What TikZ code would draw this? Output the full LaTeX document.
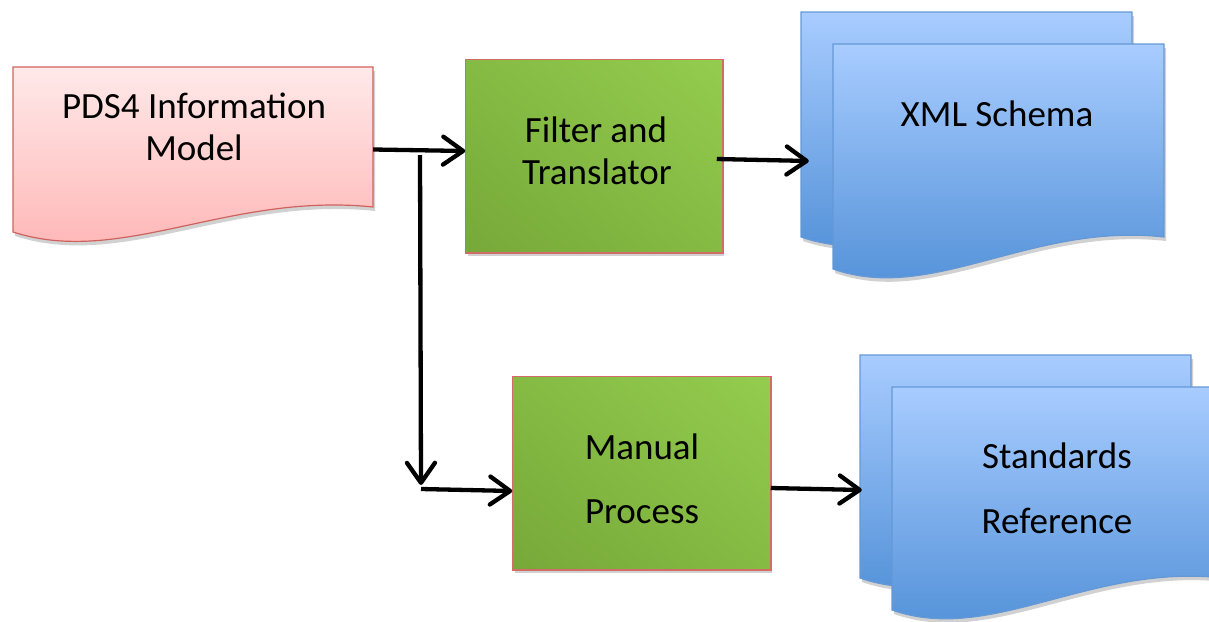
\documentclass[tikz,border=0pt]{standalone}
\usepackage{fontspec}
\setmainfont{Carlito}
\usetikzlibrary{arrows.meta,shadows}
\definecolor{pinkTop}{HTML}{FFE9E9}
\definecolor{pinkBot}{HTML}{FFB2B2}
\definecolor{pinkLine}{HTML}{D0625E}
\definecolor{gLight}{HTML}{A2DE58}
\definecolor{gDark}{HTML}{68972F}
\definecolor{gLine}{HTML}{D26C66}
\definecolor{bTop}{HTML}{A8CCFF}
\definecolor{bBot}{HTML}{4E8ED6}
\definecolor{bLine}{HTML}{6598D6}
\newcommand\docshape[6]{%
  \path[#1] (#2,#3) -- (#4,#3) -- (#4,#5)
    .. controls ({#2+0.6*(#4-#2)},{#5-15}) and ({#2+0.3*(#4-#2)},{#6+35}) .. (#2,#6) -- cycle;}
% diagonal green gradient inside box named #1, centre (#2pt,#3pt) in canvas units
\newcommand\greenfill[3]{%
  \begin{scope}
    \clip (#1.south west) rectangle (#1.north east);
    \begin{scope}[transform canvas={shift={(#2pt,#3pt)}, rotate=53.13}]
      \shade[left color=gDark, right color=gLight] (-307pt,-307pt) rectangle (307pt,307pt);
    \end{scope}
  \end{scope}
  \draw[gLine, line width=1.5pt] (#1.south west) rectangle (#1.north east);}
\begin{document}
\begin{tikzpicture}[x=1pt,y=-1pt,
  lbl/.style={font=\fontsize{37}{42}\selectfont, anchor=base, inner sep=0pt},
  conn/.style={line width=4.3pt, -{Straight Barb[length=20pt,width=28pt,round]}},
  shad/.style={drop shadow={opacity=0.18, shadow xshift=2pt, shadow yshift=-4pt, fill=black}},
  pinkdoc/.style={shad, draw=pinkLine, line width=1.2pt, top color=pinkTop, bottom color=pinkBot},
  bluedoc/.style={shad, draw=bLine, line width=1.2pt, top color=bTop, bottom color=bBot},
  gbox/.style={shad, draw=gLine, line width=1.5pt, rectangle, inner sep=0pt, fill=gLight},
  area/.style={rectangle, inner sep=0pt, draw=none}
]
\useasboundingbox (0,0) rectangle (1209,621);

% documents
\docshape{pinkdoc}{13}{67}{373}{207}{232}
\docshape{bluedoc}{801}{12}{1132}{205}{237}
\docshape{bluedoc}{833}{44}{1164}{237}{269}
\docshape{bluedoc}{860}{355}{1191}{546}{578}
\docshape{bluedoc}{892}{387}{1223}{578}{610}

% named areas for the documents
\node[area, minimum width=360pt, minimum height=165pt] (pds) at (193,149.5) {};
\node[area, minimum width=331pt, minimum height=225pt] (xmlback) at (966.5,124.5) {};
\node[area, minimum width=331pt, minimum height=223pt] (stdback) at (1025.5,466.5) {};

% process boxes
\node[gbox, minimum width=256pt, minimum height=192pt] (filter) at (594,156) {};
\greenfill{filter}{594}{-156}
\node[gbox, minimum width=257pt, minimum height=192pt] (manual) at (641.5,473) {};
\greenfill{manual}{641.5}{-473}

% texts
\node[lbl] (t1) at (194,118) {PDS4 Information};
\node[lbl] (t2) at (194,160) {Model};
\node[lbl] (t3) at (596,142) {Filter and};
\node[lbl] (t4) at (597,184) {Translator};
\node[lbl] (t5) at (997,126) {XML Schema};
\node[lbl] (t6) at (642,459) {Manual};
\node[lbl] (t7) at (642,523) {Process};
\node[lbl] (t8) at (1057,468) {Standards};
\node[lbl] (t9) at (1057,533) {Reference};

% connectors
\coordinate (split) at (420,155);
\coordinate (corner) at (421,489);
\draw[conn] (pds.east) -- ([yshift=5pt]filter.west);
\draw[conn] (split) -- ([yshift=4pt]corner);
\draw[conn] (corner) -- ([yshift=-18pt]manual.west);
\draw[conn] ([xshift=-6pt,yshift=-3pt]filter.east) -- ([xshift=8pt,yshift=-36.5pt]xmlback.west);
\draw[conn] ([yshift=-15pt]manual.east) -- ([xshift=2pt,yshift=-23.5pt]stdback.west);
\end{tikzpicture}
\end{document}
